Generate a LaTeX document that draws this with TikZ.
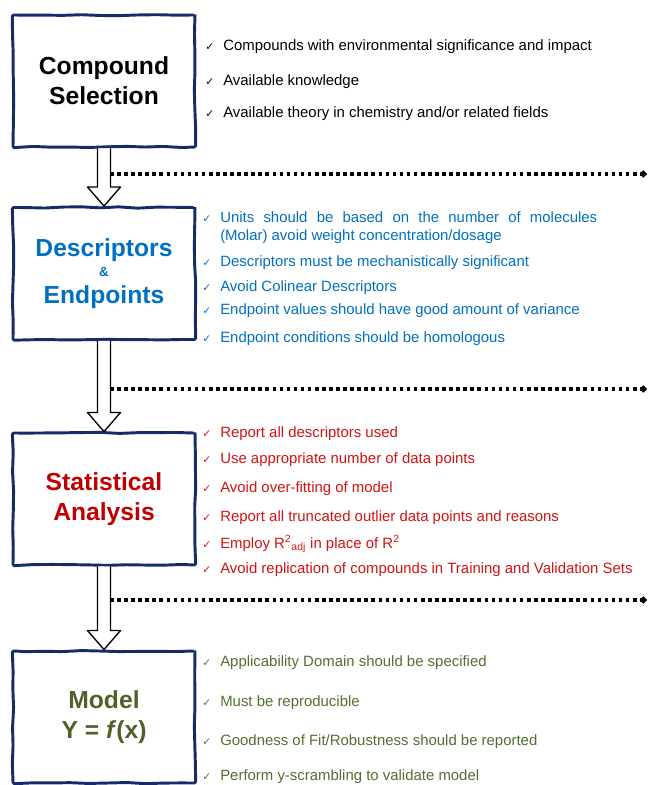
\documentclass[tikz,border=0pt]{standalone}
\usepackage{fontspec}
\setmainfont{Liberation Sans}
\newfontfamily\symfont{DejaVu Sans}
\usetikzlibrary{calc,arrows.meta,decorations.pathmorphing}

\definecolor{boxnavy}{RGB}{22,44,104}
\definecolor{descblue}{RGB}{0,112,192}
\definecolor{statred}{RGB}{192,0,0}
\definecolor{itemred}{RGB}{208,20,20}
\definecolor{modelgreen}{RGB}{79,98,40}
\definecolor{itemgreen}{RGB}{84,110,50}

\newcommand{\ck}{\makebox[13.5pt][l]{\symfont\fontsize{8}{8}\selectfont ✓}}
\newcommand{\flowarrow}[2]{%
  \draw[hollowarrow] ($(#1.south)+(-6.5,0)$) -- ($(#2.north)+(-6.5,-19)$)
    -- ($(#2.north)+(-16.5,-19)$) -- (#2.north) -- ($(#2.north)+(16.5,-19)$)
    -- ($(#2.north)+(6.5,-19)$) -- ($(#1.south)+(6.5,0)$);}

\tikzset{
  stagebox/.style={draw=boxnavy, line width=2.2pt, fill=white,
    minimum width=136.5pt, minimum height=99pt, inner sep=0pt, align=center,
    font=\fontsize{18.5}{22.5}\selectfont\bfseries,
    decorate, decoration={random steps, segment length=14pt, amplitude=0.5pt},
    rounded corners=1pt},
  reqitem/.style={anchor=base west, inner sep=0pt, font=\fontsize{11.2}{13}\selectfont},
  hollowarrow/.style={draw=black, line width=1pt, fill=white, line join=round},
  sepline/.style={line width=2.7pt, dash pattern=on 2.7pt off 2.6pt,
    -{Diamond[length=5.5pt,width=5.5pt]}}
}

\begin{document}
\begin{tikzpicture}[x=0.75pt,y=-0.75pt]
\pgfmathsetseed{7}
\useasboundingbox (0,0) rectangle (648,785);

    \node[stagebox] (sel) at (104,81) {Compound\\Selection};
    \node[stagebox, text=descblue] (desc) at (104,273.5)
      {Descriptors\\[-7.5pt]{\fontsize{10}{10}\selectfont\&}\\[-2pt]Endpoints};
    \node[stagebox, text=statred] (stat) at (104,499) {Statistical\\Analysis};
    \node[stagebox, text=modelgreen] (model) at (104,717) {Model\\Y = \textit{f}(x)};

    \flowarrow{sel}{desc}
    \flowarrow{desc}{stat}
    \flowarrow{stat}{model}

    \coordinate (s1) at (110,174);
    \coordinate (e1) at (647,174);
    \coordinate (s2) at (110,389);
    \coordinate (e2) at (647,389);
    \coordinate (s3) at (110,600);
    \coordinate (e3) at (647,600);
    \draw[sepline] (s1) -- (e1);
    \draw[sepline] (s2) -- (e2);
    \draw[sepline] (s3) -- (e3);

    \node[reqitem] (c1) at (205,50) {\ck Compounds with environmental significance and impact};
    \node[reqitem] (c2) at (205,85) {\ck Available knowledge};
    \node[reqitem] (c3) at (205,117) {\ck Available theory in chemistry and/or related fields};

    \node[reqitem, text=descblue] (d1) at (202,222)
      {\ck\makebox[282.75pt][s]{Units should be based on the number of molecules}};
    \node[reqitem, text=descblue] (d1b) at (220,240) {(Molar) avoid weight concentration/dosage};
    \node[reqitem, text=descblue] (d2) at (202,266) {\ck Descriptors must be mechanistically significant};
    \node[reqitem, text=descblue] (d3) at (202,291) {\ck Avoid Colinear Descriptors};
    \node[reqitem, text=descblue] (d4) at (202,314) {\ck Endpoint values should have good amount of variance};
    \node[reqitem, text=descblue] (d5) at (202,342) {\ck Endpoint conditions should be homologous};

    \node[reqitem, text=itemred] (r1) at (202,437) {\ck Report all descriptors used};
    \node[reqitem, text=itemred] (r2) at (202,463) {\ck Use appropriate number of data points};
    \node[reqitem, text=itemred] (r3) at (202,492) {\ck Avoid over-fitting of model};
    \node[reqitem, text=itemred] (r4) at (202,521) {\ck Report all truncated outlier data points and reasons};
    \node[reqitem, text=itemred] (r5) at (202,548)
      {\ck Employ R\textsuperscript{2}\textsubscript{adj} in place of R\textsuperscript{2}};
    \node[reqitem, text=itemred] (r6) at (202,573) {\ck Avoid replication of compounds in Training and Validation Sets};

    \node[reqitem, text=itemgreen] (m1) at (202,666) {\ck Applicability Domain should be specified};
    \node[reqitem, text=itemgreen] (m2) at (202,706) {\ck Must be reproducible};
    \node[reqitem, text=itemgreen] (m3) at (202,745) {\ck Goodness of Fit/Robustness should be reported};
    \node[reqitem, text=itemgreen] (m4) at (202,780) {\ck Perform y-scrambling to validate model};

\end{tikzpicture}
\end{document}
